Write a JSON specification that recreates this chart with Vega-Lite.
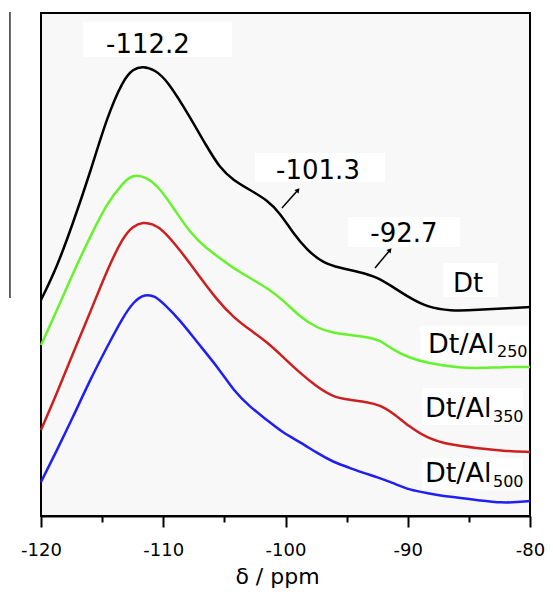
{
  "$schema": "https://vega.github.io/schema/vega-lite/v6.json",
  "width": 489,
  "height": 503,
  "autosize": "none",
  "padding": {"left": 41, "top": 13, "right": 23, "bottom": 76},
  "background": "white",
  "config": {
    "view": {"stroke": "black", "strokeWidth": 2, "fill": "#f8f8f8"},
    "font": "DejaVu Sans"
  },
  "datasets": {
    "spectra": [
      {"s":"Dt","x":-120,"y":216},{"s":"Dt","x":-118.69,"y":249},{"s":"Dt","x":-117.38,"y":293},{"s":"Dt","x":-115.99,"y":343},{"s":"Dt","x":-114.6,"y":399},{"s":"Dt","x":-113.29,"y":436},{"s":"Dt","x":-112.47,"y":447},{"s":"Dt","x":-111.66,"y":450},{"s":"Dt","x":-110.67,"y":446},{"s":"Dt","x":-109.69,"y":436},{"s":"Dt","x":-107.81,"y":399},{"s":"Dt","x":-106.42,"y":369},{"s":"Dt","x":-105.36,"y":348},{"s":"Dt","x":-104.29,"y":336},{"s":"Dt","x":-102.9,"y":326},{"s":"Dt","x":-101.51,"y":316},{"s":"Dt","x":-100.45,"y":303},{"s":"Dt","x":-99.39,"y":283},{"s":"Dt","x":-98.24,"y":266},{"s":"Dt","x":-96.93,"y":253},{"s":"Dt","x":-95.54,"y":248},{"s":"Dt","x":-93.91,"y":244},{"s":"Dt","x":-92.52,"y":239},{"s":"Dt","x":-91.21,"y":229},{"s":"Dt","x":-89.82,"y":218},{"s":"Dt","x":-88.43,"y":209},{"s":"Dt","x":-86.54,"y":205},{"s":"Dt","x":-84.33,"y":206},{"s":"Dt","x":-81.64,"y":208},{"s":"Dt","x":-80,"y":209},
      {"s":"Al250","x":-120,"y":171},{"s":"Al250","x":-118.69,"y":206},{"s":"Al250","x":-117.38,"y":243},{"s":"Al250","x":-115.99,"y":279},{"s":"Al250","x":-114.6,"y":313},{"s":"Al250","x":-113.29,"y":333},{"s":"Al250","x":-112.72,"y":339},{"s":"Al250","x":-112.15,"y":341},{"s":"Al250","x":-111.33,"y":338},{"s":"Al250","x":-110.51,"y":331},{"s":"Al250","x":-109.2,"y":309},{"s":"Al250","x":-107.81,"y":283},{"s":"Al250","x":-106.42,"y":267},{"s":"Al250","x":-105.36,"y":258},{"s":"Al250","x":-104.29,"y":248},{"s":"Al250","x":-102.9,"y":238},{"s":"Al250","x":-101.51,"y":228},{"s":"Al250","x":-100.2,"y":216},{"s":"Al250","x":-98.81,"y":199},{"s":"Al250","x":-97.42,"y":188},{"s":"Al250","x":-96.11,"y":183},{"s":"Al250","x":-94.72,"y":181},{"s":"Al250","x":-93.33,"y":179},{"s":"Al250","x":-92.27,"y":176},{"s":"Al250","x":-91.21,"y":166},{"s":"Al250","x":-89.82,"y":158},{"s":"Al250","x":-88.43,"y":153},{"s":"Al250","x":-85.73,"y":148},{"s":"Al250","x":-83.84,"y":148},{"s":"Al250","x":-82.21,"y":149},{"s":"Al250","x":-80,"y":149},
      {"s":"Al350","x":-120,"y":86},{"s":"Al350","x":-118.69,"y":123},{"s":"Al350","x":-117.38,"y":163},{"s":"Al350","x":-115.99,"y":203},{"s":"Al350","x":-114.6,"y":246},{"s":"Al350","x":-113.29,"y":279},{"s":"Al350","x":-112.47,"y":290},{"s":"Al350","x":-111.66,"y":294},{"s":"Al350","x":-110.84,"y":292},{"s":"Al350","x":-110.02,"y":286},{"s":"Al350","x":-108.63,"y":266},{"s":"Al350","x":-107.24,"y":243},{"s":"Al350","x":-105.6,"y":216},{"s":"Al350","x":-104.29,"y":199},{"s":"Al350","x":-102.9,"y":186},{"s":"Al350","x":-101.51,"y":174},{"s":"Al350","x":-100.2,"y":159},{"s":"Al350","x":-98.81,"y":143},{"s":"Al350","x":-97.42,"y":129},{"s":"Al350","x":-96.11,"y":119},{"s":"Al350","x":-94.72,"y":116},{"s":"Al350","x":-93.33,"y":114},{"s":"Al350","x":-92.27,"y":111},{"s":"Al350","x":-91.21,"y":103},{"s":"Al350","x":-89.82,"y":89},{"s":"Al350","x":-88.43,"y":78},{"s":"Al350","x":-86.54,"y":71},{"s":"Al350","x":-84.33,"y":68},{"s":"Al350","x":-82.21,"y":65},{"s":"Al350","x":-80,"y":64},
      {"s":"Al500","x":-120,"y":34},{"s":"Al500","x":-118.69,"y":66},{"s":"Al500","x":-117.38,"y":99},{"s":"Al500","x":-115.99,"y":136},{"s":"Al500","x":-114.6,"y":169},{"s":"Al500","x":-113.29,"y":199},{"s":"Al500","x":-112.39,"y":215},{"s":"Al500","x":-111.49,"y":222},{"s":"Al500","x":-110.67,"y":220},{"s":"Al500","x":-110.02,"y":213},{"s":"Al500","x":-108.63,"y":196},{"s":"Al500","x":-107.24,"y":174},{"s":"Al500","x":-105.36,"y":146},{"s":"Al500","x":-104.29,"y":126},{"s":"Al500","x":-102.9,"y":109},{"s":"Al500","x":-101.51,"y":96},{"s":"Al500","x":-100.2,"y":83},{"s":"Al500","x":-98.81,"y":74},{"s":"Al500","x":-97.42,"y":63},{"s":"Al500","x":-96.11,"y":54},{"s":"Al500","x":-94.72,"y":48},{"s":"Al500","x":-93.6,"y":43},{"s":"Al500","x":-92.52,"y":39},{"s":"Al500","x":-91.21,"y":33},{"s":"Al500","x":-89.82,"y":26},{"s":"Al500","x":-88.43,"y":23},{"s":"Al500","x":-86.54,"y":19},{"s":"Al500","x":-84.33,"y":16},{"s":"Al500","x":-82.21,"y":13},{"s":"Al500","x":-81.06,"y":14},{"s":"Al500","x":-80,"y":15}
    ],
    "boxes": [
      {"x":-116.56,"x2":-104.38,"y":494,"y2":459},
      {"x":-102.49,"x2":-91.86,"y":363,"y2":334},
      {"x":-94.89,"x2":-85.73,"y":299,"y2":269},
      {"x":-87.12,"x2":-82.62,"y":253,"y2":219},
      {"x":-89.0,"x2":-80.16,"y":190,"y2":156},
      {"x":-88.83,"x2":-80.57,"y":128,"y2":91},
      {"x":-88.83,"x2":-80.57,"y":58,"y2":26}
    ],
    "arrows": [
      {"x":-100.29,"y":308,"x2":-98.98,"y2":326},
      {"x":-92.68,"y":248,"x2":-91.45,"y2":266}
    ],
    "peaks": [
      {"label":"-112.2","x":-111.25,"y":463},
      {"label":"-101.3","x":-97.34,"y":337},
      {"label":"-92.7","x":-90.31,"y":274},
      {"label":"Dt","x":-85.07,"y":224}
    ],
    "names": [
      {"label":"Dt/Al","x":-88.34,"y":163},
      {"label":"Dt/Al","x":-88.59,"y":99},
      {"label":"Dt/Al","x":-88.59,"y":34}
    ],
    "subs": [
      {"label":"250","x":-82.7,"y":159},
      {"label":"350","x":-83.03,"y":94},
      {"label":"500","x":-83.03,"y":29}
    ],
    "stray": [
      {"x":-122.54,"y":504,"y2":218}
    ]
  },
  "resolve": {"axis": {"x": "independent"}},
  "layer": [
    {
      "data": {"name": "boxes"},
      "mark": {"type": "rect", "fill": "white"},
      "encoding": {
        "x": {"field": "x", "type": "quantitative", "axis": null, "scale": {"domain": [-120, -80], "nice": false}},
        "x2": {"field": "x2"},
        "y": {"field": "y", "type": "quantitative", "axis": null, "scale": {"domain": [0, 503], "nice": false}},
        "y2": {"field": "y2"}
      }
    },
    {
      "data": {"name": "spectra"},
      "mark": {"type": "line", "strokeWidth": 2.5, "interpolate": "basis"},
      "encoding": {
        "x": {"field": "x", "type": "quantitative",
          "axis": {"orient": "bottom", "values": [-120, -110, -100, -90, -80], "title": "δ / ppm", "grid": false,
            "labelExpr": "replace(datum.label, '−', '-')",
            "domainColor": "black", "domainWidth": 2, "tickColor": "black", "tickWidth": 2, "tickSize": 11,
            "labelFontSize": 18, "labelColor": "black", "labelFont": "DejaVu Sans", "labelPadding": 14,
            "labelFlush": false, "labelOverlap": false,
            "titleFontSize": 22, "titleFont": "DejaVu Sans", "titleFontWeight": "normal", "titleColor": "black", "titlePadding": 7, "titleX": 236}},
        "y": {"field": "y", "type": "quantitative", "axis": null},
        "color": {"field": "s", "type": "nominal", "legend": null,
          "scale": {"domain": ["Dt", "Al250", "Al350", "Al500"], "range": ["#000000", "#66f22c", "#cc1f1f", "#1f1ff5"]}},
        "detail": {"field": "s"}
      }
    },
    {
      "data": {"name": "arrows"},
      "mark": {"type": "rule", "color": "black", "strokeWidth": 1.5},
      "encoding": {
        "x": {"field": "x", "type": "quantitative", "axis": null},
        "y": {"field": "y", "type": "quantitative", "axis": null},
        "x2": {"field": "x2"},
        "y2": {"field": "y2"}
      }
    },
    {
      "data": {"name": "arrows"},
      "mark": {"type": "point", "shape": "triangle-up", "filled": true, "color": "black", "size": 28, "angle": 40, "opacity": 1},
      "encoding": {
        "x": {"field": "x2", "type": "quantitative", "axis": null},
        "y": {"field": "y2", "type": "quantitative", "axis": null}
      }
    },
    {
      "data": {"name": "peaks"},
      "mark": {"type": "text", "fontSize": 26, "font": "DejaVu Sans", "align": "center", "baseline": "alphabetic", "color": "black"},
      "encoding": {
        "x": {"field": "x", "type": "quantitative", "axis": null},
        "y": {"field": "y", "type": "quantitative", "axis": null},
        "text": {"field": "label"}
      }
    },
    {
      "data": {"name": "names"},
      "mark": {"type": "text", "fontSize": 27, "font": "DejaVu Sans", "align": "left", "baseline": "alphabetic", "color": "black"},
      "encoding": {
        "x": {"field": "x", "type": "quantitative", "axis": null},
        "y": {"field": "y", "type": "quantitative", "axis": null},
        "text": {"field": "label"}
      }
    },
    {
      "data": {"name": "subs"},
      "mark": {"type": "text", "fontSize": 16, "font": "DejaVu Sans", "align": "left", "baseline": "alphabetic", "color": "black"},
      "encoding": {
        "x": {"field": "x", "type": "quantitative", "axis": null},
        "y": {"field": "y", "type": "quantitative", "axis": null},
        "text": {"field": "label"}
      }
    },
    {
      "data": {"name": "stray"},
      "mark": {"type": "rule", "color": "#333333", "strokeWidth": 1.5},
      "encoding": {
        "x": {"field": "x", "type": "quantitative",
          "axis": {"orient": "bottom", "values": [-115, -105, -95, -85], "labels": false, "domain": false, "grid": false, "title": null,
            "tickColor": "black", "tickWidth": 2, "tickSize": 6}},
        "y": {"field": "y", "type": "quantitative", "axis": null},
        "y2": {"field": "y2"}
      }
    }
  ]
}
